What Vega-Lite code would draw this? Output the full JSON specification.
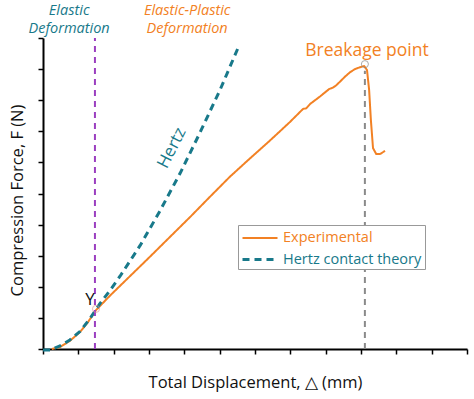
{
  "$schema": "https://vega.github.io/schema/vega-lite/v6.json",
  "width": 424,
  "height": 311,
  "autosize": {"type": "none"},
  "padding": {"left": 43, "top": 38, "right": 7, "bottom": 50},
  "config": {
    "view": {"stroke": null},
    "font": "Open Sans",
    "axis": {
      "grid": false, "labels": false, "labelOverlap": false, "domainColor": "#000", "domainWidth": 2,
      "tickColor": "#000", "tickWidth": 1.5, "tickSize": 5,
      "titleFont": "Open Sans", "titleFontWeight": "normal", "titleFontSize": 16.5, "titleColor": "#111"
    }
  },
  "layer": [
    {
      "data": {"values": [
        {"series": "Experimental", "x": 0.25, "y": 0},
        {"series": "Experimental", "x": 0.48, "y": 0.06},
        {"series": "Experimental", "x": 0.76, "y": 0.26},
        {"series": "Experimental", "x": 1.05, "y": 0.55},
        {"series": "Experimental", "x": 1.27, "y": 0.86},
        {"series": "Experimental", "x": 1.5, "y": 1.25},
        {"series": "Experimental", "x": 1.9, "y": 1.72},
        {"series": "Experimental", "x": 2.46, "y": 2.34},
        {"series": "Experimental", "x": 3.03, "y": 2.97},
        {"series": "Experimental", "x": 3.59, "y": 3.6},
        {"series": "Experimental", "x": 4.16, "y": 4.24},
        {"series": "Experimental", "x": 4.73, "y": 4.9},
        {"series": "Experimental", "x": 5.29, "y": 5.54},
        {"series": "Experimental", "x": 5.86, "y": 6.13},
        {"series": "Experimental", "x": 6.43, "y": 6.71},
        {"series": "Experimental", "x": 6.99, "y": 7.3},
        {"series": "Experimental", "x": 7.36, "y": 7.72},
        {"series": "Experimental", "x": 7.45, "y": 7.74},
        {"series": "Experimental", "x": 7.56, "y": 7.88},
        {"series": "Experimental", "x": 7.84, "y": 8.12},
        {"series": "Experimental", "x": 8.1, "y": 8.36},
        {"series": "Experimental", "x": 8.2, "y": 8.4},
        {"series": "Experimental", "x": 8.29, "y": 8.47},
        {"series": "Experimental", "x": 8.41, "y": 8.6},
        {"series": "Experimental", "x": 8.55, "y": 8.76},
        {"series": "Experimental", "x": 8.69, "y": 8.9},
        {"series": "Experimental", "x": 8.83, "y": 9.0},
        {"series": "Experimental", "x": 8.97, "y": 9.06},
        {"series": "Experimental", "x": 9.09, "y": 9.1},
        {"series": "Experimental", "x": 9.17, "y": 8.97},
        {"series": "Experimental", "x": 9.23, "y": 8.33},
        {"series": "Experimental", "x": 9.28, "y": 7.36},
        {"series": "Experimental", "x": 9.34, "y": 6.46},
        {"series": "Experimental", "x": 9.43, "y": 6.27},
        {"series": "Experimental", "x": 9.54, "y": 6.27},
        {"series": "Experimental", "x": 9.68, "y": 6.37},
        {"series": "Hertz contact theory", "x": 0, "y": -0.03},
        {"series": "Hertz contact theory", "x": 0.2, "y": -0.03},
        {"series": "Hertz contact theory", "x": 0.48, "y": 0.1},
        {"series": "Hertz contact theory", "x": 0.76, "y": 0.29},
        {"series": "Hertz contact theory", "x": 1.05, "y": 0.57},
        {"series": "Hertz contact theory", "x": 1.33, "y": 0.98},
        {"series": "Hertz contact theory", "x": 1.61, "y": 1.46},
        {"series": "Hertz contact theory", "x": 1.9, "y": 1.89},
        {"series": "Hertz contact theory", "x": 2.18, "y": 2.34},
        {"series": "Hertz contact theory", "x": 2.75, "y": 3.33},
        {"series": "Hertz contact theory", "x": 3.31, "y": 4.44},
        {"series": "Hertz contact theory", "x": 3.88, "y": 5.65},
        {"series": "Hertz contact theory", "x": 4.44, "y": 6.95},
        {"series": "Hertz contact theory", "x": 5.01, "y": 8.33},
        {"series": "Hertz contact theory", "x": 5.52, "y": 9.68}
      ]},
      "mark": {"type": "line", "strokeJoin": "round", "strokeCap": "butt"},
      "encoding": {
        "x": {"field": "x", "type": "quantitative", "scale": {"domain": [0, 12], "nice": false},
              "axis": {"title": "Total Displacement, △ (mm)", "values": [0,1,2,3,4,5,6,7,8,9,10,11,12], "tickCount": 13, "titlePadding": 20}},
        "y": {"field": "y", "type": "quantitative", "scale": {"domain": [0, 10], "nice": false},
              "axis": {"title": "Compression Force, F (N)", "values": [0,1,2,3,4,5,6,7,8,9,10], "tickCount": 11, "titlePadding": 12, "titleY": 162}},
        "color": {"field": "series", "type": "nominal",
                  "scale": {"domain": ["Experimental", "Hertz contact theory"], "range": ["#f28124", "#18798a"]},
                  "legend": {
                    "title": null, "orient": "none", "legendX": 195, "legendY": 187,
                    "symbolType": "M-1,0H2.89", "symbolSize": 324, "symbolStrokeWidth": 2.5,
                    "labelFontSize": 14.5, "labelFont": "Open Sans", "rowPadding": 4, "labelOffset": 21,
                    "labelLimit": 300,
                    "strokeColor": "#999", "padding": 3, "fillColor": "#fff",
                    "encode": {"labels": {"update": {
                      "text": {"signal": "datum.label + '\u00a0\u00a0\u00a0\u00a0'"},
                      "fill": {"signal": "datum.value === 'Experimental' ? '#f28124' : '#18798a'"}
                    }}}
                  }},
        "strokeDash": {"field": "series", "type": "nominal",
                       "scale": {"domain": ["Experimental", "Hertz contact theory"], "range": [[1, 0], [7, 5]]}},
        "strokeWidth": {"field": "series", "type": "nominal",
                        "scale": {"domain": ["Experimental", "Hertz contact theory"], "range": [2, 3]}, "legend": null}
      }
    },
    {
      "data": {"values": [{"x": 1.47, "y": 0, "y2": 10}]},
      "mark": {"type": "rule", "color": "#9b3fc0", "strokeWidth": 2, "strokeDash": [6, 5]},
      "encoding": {"x": {"field": "x", "type": "quantitative"}, "y": {"field": "y", "type": "quantitative"}, "y2": {"field": "y2"}}
    },
    {
      "data": {"values": [{"x": 9.11, "y": 0, "y2": 8.95}]},
      "mark": {"type": "rule", "color": "#8a8a8a", "strokeWidth": 2, "strokeDash": [6, 5]},
      "encoding": {"x": {"field": "x", "type": "quantitative"}, "y": {"field": "y", "type": "quantitative"}, "y2": {"field": "y2"}}
    },
    {
      "data": {"values": [{"x": 1.5, "y": 1.29}]},
      "mark": {"type": "point", "shape": "circle", "size": 50, "stroke": "#e09a9a", "strokeWidth": 1, "filled": false},
      "encoding": {"x": {"field": "x", "type": "quantitative"}, "y": {"field": "y", "type": "quantitative"}}
    },
    {
      "data": {"values": [{"x": 9.11, "y": 9.16}]},
      "mark": {"type": "point", "shape": "circle", "size": 50, "stroke": "#888", "strokeWidth": 1, "filled": false},
      "encoding": {"x": {"field": "x", "type": "quantitative"}, "y": {"field": "y", "type": "quantitative"}}
    },
    {
      "data": {"values": [{"x": 0.74, "y": 11.1, "t": "Elastic\nDeformation"}]},
      "mark": {"type": "text", "align": "center", "baseline": "top", "lineBreak": "\n", "lineHeight": 18, "fontSize": 14.5, "fontStyle": "italic", "color": "#18798a"},
      "encoding": {"x": {"field": "x", "type": "quantitative"}, "y": {"field": "y", "type": "quantitative"}, "text": {"field": "t"}}
    },
    {
      "data": {"values": [{"x": 4.08, "y": 11.1, "t": "Elastic-Plastic\nDeformation"}]},
      "mark": {"type": "text", "align": "center", "baseline": "top", "lineBreak": "\n", "lineHeight": 18, "fontSize": 14.5, "fontStyle": "italic", "color": "#f28124"},
      "encoding": {"x": {"field": "x", "type": "quantitative"}, "y": {"field": "y", "type": "quantitative"}, "text": {"field": "t"}}
    },
    {
      "data": {"values": [{"x": 9.17, "y": 9.42, "t": "Breakage point"}]},
      "mark": {"type": "text", "align": "center", "baseline": "alphabetic", "fontSize": 17.5, "color": "#f28124"},
      "encoding": {"x": {"field": "x", "type": "quantitative"}, "y": {"field": "y", "type": "quantitative"}, "text": {"field": "t"}}
    },
    {
      "data": {"values": [{"x": 1.33, "y": 1.41, "t": "Y"}]},
      "mark": {"type": "text", "align": "center", "baseline": "alphabetic", "fontSize": 17, "color": "#111"},
      "encoding": {"x": {"field": "x", "type": "quantitative"}, "y": {"field": "y", "type": "quantitative"}, "text": {"field": "t"}}
    },
    {
      "data": {"values": [{"x": 3.65, "y": 6.46, "t": "Hertz"}]},
      "mark": {"type": "text", "align": "center", "baseline": "middle", "angle": -63, "fontSize": 17, "color": "#18798a"},
      "encoding": {"x": {"field": "x", "type": "quantitative"}, "y": {"field": "y", "type": "quantitative"}, "text": {"field": "t"}}
    }
  ]
}
